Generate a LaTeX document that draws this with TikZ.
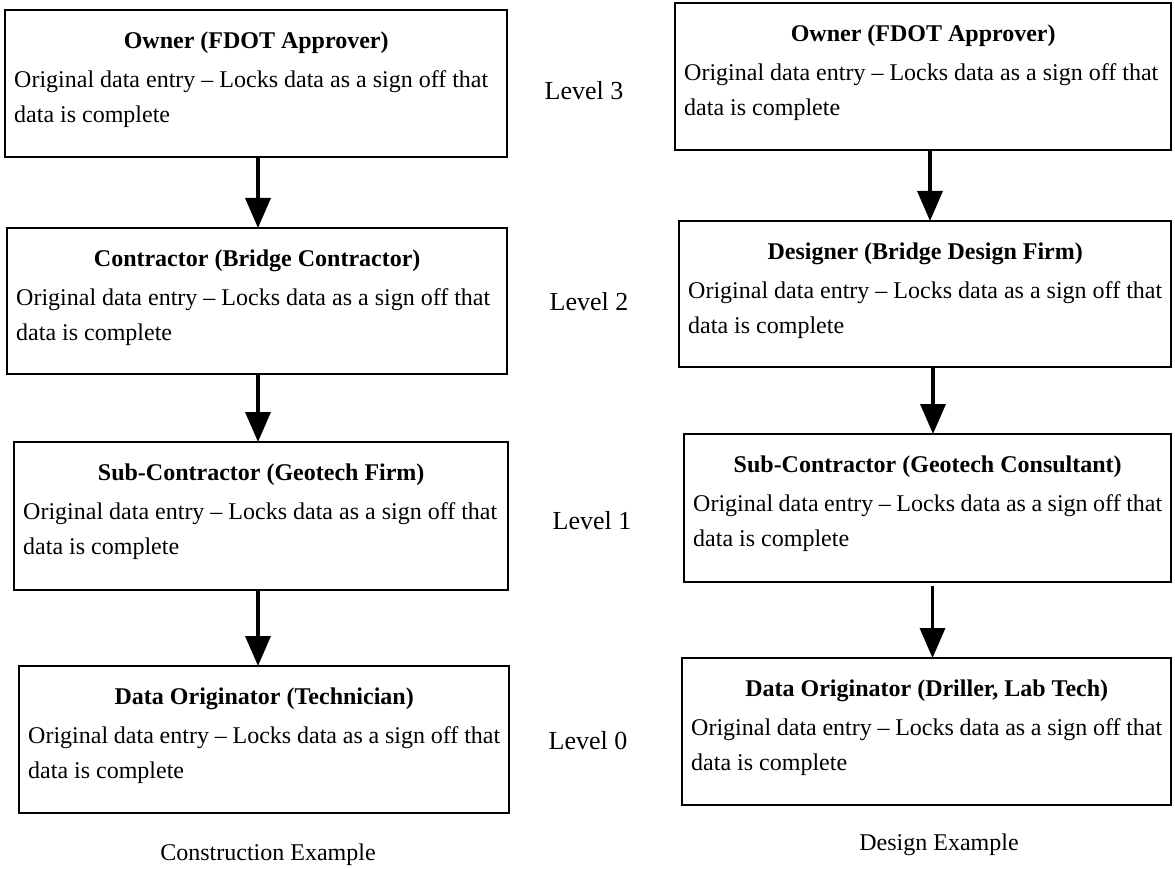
\documentclass[tikz,border=0pt]{standalone}
\usepackage{fontspec}
\setmainfont{Liberation Serif}
\usetikzlibrary{arrows.meta}
\tikzset{
  frame/.style={draw, line width=1.8pt, anchor=north west, inner sep=0pt, outer sep=0pt},
  txt/.style={anchor=north west, inner sep=0pt, font=\fontsize{24}{35}\selectfont},
  arr/.style={line width=3.5pt, -{Triangle[length=30pt,width=25pt]}},
  lvl/.style={inner sep=0pt, font=\fontsize{26}{30}\selectfont},
  captext/.style={inner sep=0pt, font=\fontsize{24}{30}\selectfont},
}
\newcommand\roleBox[6]{%
  \node[frame, minimum width=#4pt, minimum height=#5pt] (#1) at (#2,#3) {};
  \node[txt] (#1t) at ([xshift=9pt,yshift=-22pt]#1.north west)
    {\parbox[t]{\dimexpr#4pt-18pt\relax}{\centering\bfseries #6\par\vspace{4pt}
      \raggedright\mdseries Original data entry -- Locks data as a sign off that\\ data is complete}};
}
\begin{document}
\begin{tikzpicture}[x=1pt,y=-1pt]
\useasboundingbox (0,0) rectangle (1175,869);
% left column
\roleBox{L1}{5}{10}{502}{147}{Owner (FDOT Approver)}
\roleBox{L2}{7}{228}{500}{146}{Contractor (Bridge Contractor)}
\roleBox{L3}{14}{442}{494}{148}{Sub-Contractor (Geotech Firm)}
\roleBox{L4}{19}{666}{490}{147}{Data Originator (Technician)}
% right column
\roleBox{R1}{675}{3}{496}{147}{Owner (FDOT Approver)}
\roleBox{R2}{679}{221}{492}{146}{Designer (Bridge Design Firm)}
\roleBox{R3}{684}{434}{487}{148}{Sub-Contractor (Geotech Consultant)}
\roleBox{R4}{682}{658}{489}{147}{Data Originator (Driller, Lab Tech)}
% arrows
\draw[arr] ([xshift=2pt]L1.south) -- ([xshift=2pt]L1.south |- L2.north);
\draw[arr] ([xshift=1pt]L2.south) -- ([xshift=1pt]L2.south |- L3.north);
\draw[arr] ([xshift=-3pt]L3.south) -- ([xshift=-3pt]L3.south |- L4.north);
\draw[arr] ([xshift=7pt]R1.south) -- ([xshift=7pt]R1.south |- R2.north);
\draw[arr] ([xshift=8pt]R2.south) -- ([xshift=8pt]R2.south |- R3.north);
\draw[arr] ([xshift=5pt,yshift=-4pt]R3.south) -- ([xshift=5pt]R3.south |- R4.north);
% levels
\node[lvl] (lv3) at (584,91) {Level 3};
\node[lvl] (lv2) at (589,302) {Level 2};
\node[lvl] (lv1) at (592,521) {Level 1};
\node[lvl] (lv0) at (588,741) {Level 0};
% captions
\node[captext] (c1) at (268,855) {Construction Example};
\node[captext] (c2) at (939,845) {Design Example};
\end{tikzpicture}
\end{document}
